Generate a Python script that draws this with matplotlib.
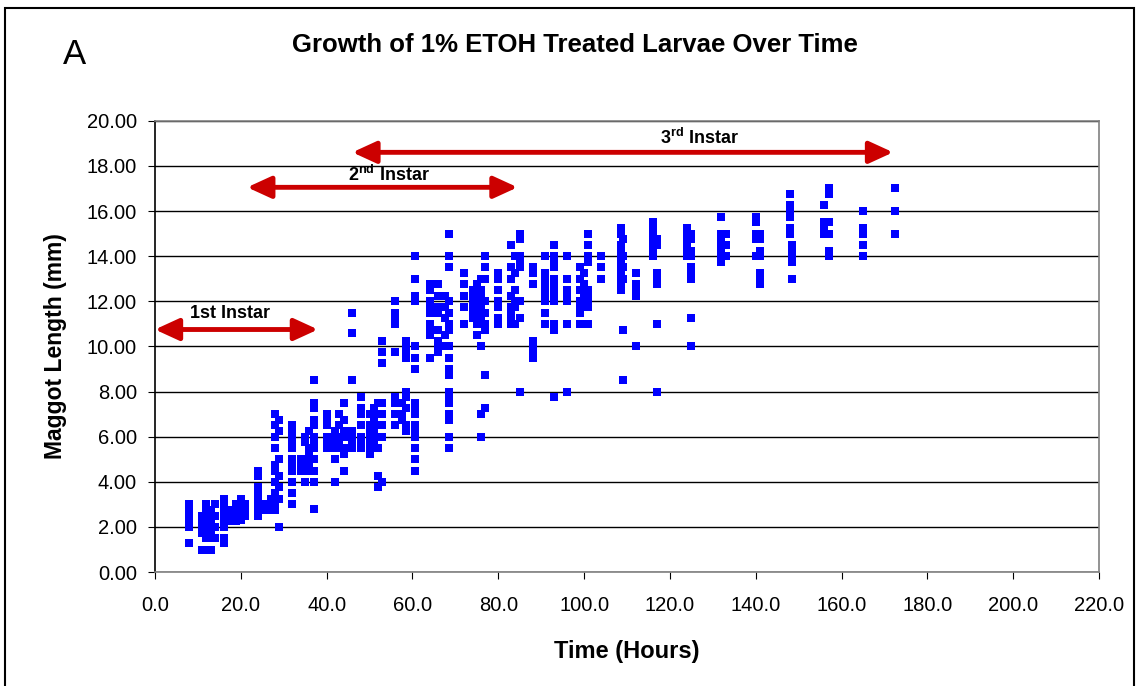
import matplotlib
matplotlib.use("Agg")
import matplotlib.pyplot as plt
from matplotlib.patches import Rectangle

plt.rcParams["font.family"] = ["Liberation Sans", "DejaVu Sans"]
plt.rcParams["mathtext.fontset"] = "custom"
plt.rcParams["mathtext.rm"] = "Liberation Sans"
plt.rcParams["mathtext.bf"] = "Liberation Sans:bold"

# sampling times (hours) and the larva lengths (mm) measured at each
col_hours = [8, 11, 12, 13, 14, 16, 18, 19, 20, 21, 24, 26, 27, 28, 29, 32,
             34, 35, 36, 37, 40, 42, 43, 44, 46, 48, 50, 51, 52, 53, 56, 57.5,
             58.5, 60.5, 64, 66, 67.5, 68.5, 72, 74, 75, 76, 77, 80, 83, 84,
             85, 88, 91, 93, 96, 99, 100, 101, 104, 108.5, 109, 112, 116, 117,
             124, 125, 132, 133, 140, 141, 148, 148.5, 156, 157, 165, 172.5]
col_lengths = [
    [3.0, 2.75, 2.5, 2.25, 2.0, 1.3],
    [2.5, 2.25, 2.0, 1.75, 1.0],
    [3.0, 2.75, 2.5, 2.25, 2.0, 1.75, 1.5, 1.0],
    [2.75, 2.5, 2.25, 2.0, 1.75, 1.5, 1.0],
    [3.0, 2.5, 2.0, 1.5],
    [3.25, 3.0, 2.75, 2.5, 2.25, 2.0, 1.5, 1.3],
    [2.75, 2.5, 2.25],
    [3.0, 2.75, 2.5, 2.25],
    [3.25, 3.0, 2.75, 2.5, 2.3],
    [3.0, 2.75, 2.5],
    [4.5, 4.25, 3.75, 3.5, 3.25, 3.0, 2.75, 2.5],
    [3.0, 2.75],
    [3.25, 3.0, 2.75],
    [7.0, 6.5, 6.0, 5.5, 4.75, 4.5, 4.0, 3.5, 3.0, 2.75],
    [6.75, 6.25, 5.0, 4.25, 3.75, 3.25, 2.0],
    [6.5, 6.25, 6.0, 5.75, 5.5, 5.0, 4.75, 4.5, 4.0, 3.5, 3.0],
    [5.0, 4.75, 4.5],
    [6.0, 5.75, 5.0, 4.5, 4.0],
    [6.25, 5.5, 5.25, 5.0, 4.75, 4.5],
    [8.5, 7.5, 7.25, 6.75, 6.5, 6.0, 5.75, 5.5, 5.0, 4.5, 4.0, 2.8],
    [7.0, 6.75, 6.5, 6.0, 5.75, 5.5],
    [6.25, 6.0, 5.75, 5.5, 5.0, 4.0],
    [7.0, 6.5, 6.0, 5.75, 5.5],
    [7.5, 6.75, 6.25, 6.0, 5.5, 5.25, 4.5],
    [11.5, 10.6, 8.5, 6.25, 6.0, 5.75, 5.5],
    [7.75, 7.25, 7.0, 6.5, 6.0, 5.75, 5.5],
    [7.0, 6.5, 6.25, 6.0, 5.75, 5.5, 5.25],
    [7.25, 6.75, 6.25, 5.75],
    [7.5, 7.0, 6.5, 6.0, 5.5, 4.25, 3.75],
    [10.25, 9.75, 9.25, 7.5, 7.0, 6.5, 6.0, 4.0],
    [12.0, 11.5, 11.25, 11.0, 9.75, 7.75, 7.5, 7.0, 6.5],
    [7.5, 7.0, 6.75],
    [10.25, 10.0, 9.75, 9.5, 8.0, 7.75, 7.25, 6.5, 6.25],
    [14.0, 13.0, 12.25, 12.0, 10.0, 9.5, 9.0, 7.5, 7.25, 7.0, 6.5, 6.25,
     6.0, 5.5, 5.0, 4.5],
    [12.75, 12.5, 12.0, 11.75, 11.5, 11.0, 10.75, 10.5, 9.5],
    [12.75, 12.25, 11.75, 11.5, 10.75, 10.25, 10.0, 9.75],
    [12.25, 11.75, 11.25, 10.5, 10.0],
    [15.0, 14.0, 13.5, 12.0, 11.5, 11.0, 10.75, 10.0, 9.5, 9.0, 8.75, 8.0,
     7.75, 7.5, 7.0, 6.75, 6.0, 5.5],
    [13.25, 12.75, 12.25, 11.75, 11.0],
    [12.5, 12.25, 12.0, 11.75, 11.5, 11.25],
    [12.75, 12.5, 12.0, 11.75, 11.5, 11.25, 11.0, 10.5],
    [13.0, 12.5, 12.25, 12.0, 11.75, 11.5, 11.25, 10.0, 7.0, 6.0],
    [14.0, 13.5, 13.0, 12.0, 11.5, 11.0, 10.75, 8.75, 7.25],
    [13.25, 13.0, 12.5, 12.0, 11.75, 11.25, 11.0],
    [14.5, 13.5, 13.0, 12.25, 11.75, 11.5, 11.25, 11.0],
    [14.0, 13.25, 12.5, 12.0, 11.75, 11.0],
    [15.0, 14.75, 14.0, 13.75, 13.5, 12.0, 11.25, 8.0],
    [13.5, 13.25, 12.75, 10.25, 10.0, 9.75, 9.5],
    [14.0, 13.25, 13.0, 12.75, 12.5, 12.25, 12.0, 11.5, 11.0],
    [14.5, 14.0, 13.75, 13.5, 13.0, 12.75, 12.5, 12.25, 12.0, 11.0, 10.75, 7.75],
    [14.0, 13.0, 12.5, 12.25, 12.0, 11.0, 8.0],
    [13.5, 13.0, 12.5, 12.0, 11.75, 11.5, 11.0],
    [13.25, 12.75, 12.25, 12.0],
    [15.0, 14.5, 14.0, 13.75, 12.5, 12.25, 12.0, 11.75, 11.0],
    [14.0, 13.5, 13.0],
    [15.25, 15.0, 14.5, 14.25, 14.0, 13.75, 13.5, 13.25, 13.0, 12.75, 12.5],
    [14.75, 14.0, 13.5, 13.0, 10.75, 8.5],
    [13.25, 12.75, 12.5, 12.25, 10.0],
    [15.5, 15.25, 15.0, 14.75, 14.5, 14.25, 14.0],
    [14.75, 14.5, 13.25, 13.0, 12.75, 11.0, 8.0],
    [15.25, 15.0, 14.75, 14.5, 14.25, 14.0],
    [15.0, 14.75, 14.25, 14.0, 13.5, 13.25, 13.0, 11.25, 10.0],
    [15.75, 15.0, 14.75, 14.5, 14.25, 14.0, 13.75],
    [15.0, 14.5, 14.0],
    [15.75, 15.5, 15.0, 14.75, 14.0],
    [15.0, 14.75, 14.25, 14.0, 13.25, 13.0, 12.75],
    [16.75, 16.25, 16.0, 15.75, 15.25, 15.0],
    [14.5, 14.25, 14.0, 13.75, 13.0],
    [16.25, 15.5, 15.25, 15.0],
    [17.0, 16.75, 15.5, 15.0, 14.25, 14.0],
    [16.0, 15.25, 15.0, 14.5, 14.0],
    [17.0, 16.0, 15.0],
]

# instar ranges (hours) and the arrow heights (mm)
instar_labels = ["1st Instar", "2$^{\\mathbf{nd}}$ Instar", "3$^{\\mathbf{rd}}$ Instar"]
instar_start = [0.0, 21.5, 46.0]
instar_end = [38.0, 84.5, 172.0]
instar_level = [10.75, 17.05, 18.6]

hours = [h for h, ys in zip(col_hours, col_lengths) for _ in ys]
lengths = [y for ys in col_lengths for y in ys]

fig = plt.figure(figsize=(11.39, 6.86), dpi=100)
ax = fig.add_axes([0.136, 0.166, 0.829, 0.658])

ax.plot(hours, lengths, linestyle="none", marker="s", markersize=5.5,
        markeredgewidth=0, color="#0000ff", zorder=3)

ax.set_xlim(0, 220)
ax.set_ylim(0, 20)
ax.set_xticks(range(0, 221, 20))
ax.set_xticklabels([f"{v:.1f}" for v in range(0, 221, 20)])
ax.set_yticks(range(0, 21, 2))
ax.set_yticklabels([f"{v:.2f}" for v in range(0, 21, 2)])
ax.tick_params(labelsize=14.5, direction="out", length=5, color="black")
ax.tick_params(axis="y", pad=8)
ax.tick_params(axis="x", pad=12)
ax.grid(axis="y", color="black", linewidth=1)
ax.set_axisbelow(True)
ax.spines["left"].set_color("black")
ax.spines["bottom"].set_color("#808080")
ax.spines["top"].set_color("#808080")
ax.spines["right"].set_color("#808080")
for s in ax.spines.values():
    s.set_linewidth(1.2)

ax.set_xlabel("Time (Hours)", fontsize=17, fontweight="bold", labelpad=18)
ax.set_ylabel("Maggot Length (mm)", fontsize=16.5, fontweight="bold", labelpad=14)

text_pos = [(17.5, 11.45), (54.5, 17.6), (127.0, 19.25)]
for lab, x0, x1, lev, (tx, ty) in zip(instar_labels, instar_start, instar_end,
                                       instar_level, text_pos):
    ax.annotate("", xy=(x1, lev), xytext=(x0, lev),
                arrowprops=dict(arrowstyle="<|-|>,head_length=1.2,head_width=0.55",
                                color="#cc0000", lw=3.5, mutation_scale=12,
                                shrinkA=0, shrinkB=0),
                annotation_clip=False)
    ax.text(tx, ty, lab, ha="center", va="center", fontsize=13,
            fontweight="bold")

fig.text(0.505, 0.934, "Growth of 1% ETOH Treated Larvae Over Time",
         ha="center", va="center", fontsize=18.5, fontweight="bold")
fig.text(0.065, 0.92, "A", ha="center", va="center", fontsize=25)

fig.patches.append(Rectangle((0.004, -0.02), 0.992, 1.008,
                             transform=fig.transFigure, fill=False,
                             edgecolor="black", linewidth=1.5))

fig.savefig("out.png", dpi=100)
plt.close(fig)
